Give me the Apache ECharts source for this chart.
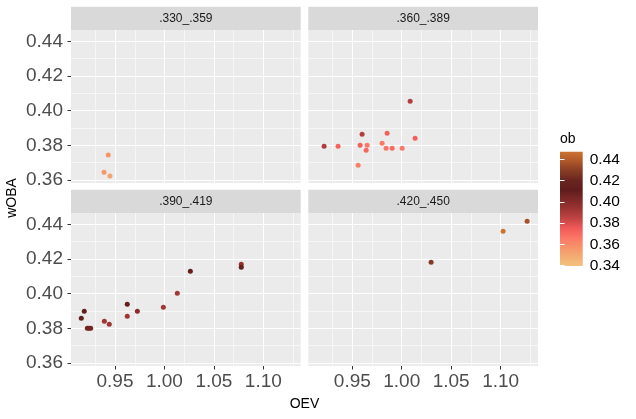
<!DOCTYPE html>
<html><head><meta charset="utf-8">
<script src="https://cdn.jsdelivr.net/npm/echarts@6/dist/echarts.min.js"></script>
<style>html,body{margin:0;padding:0;background:#fff}#c{width:636px;height:419px}</style>
</head><body><div id="c"></div>
<script>
// ---- data ----
const facetLabels = ['.330_.359', '.360_.389', '.390_.419', '.420_.450'];

const oev330  = [0.9432, 0.9389, 0.9449];
const woba330 = [0.3744, 0.3644, 0.3623];
const ob330   = [0.357, 0.356, 0.352];

const oev360  = [0.9215, 0.9356, 0.9599, 0.9852, 1.0085, 1.0135, 0.9579, 0.9650, 0.9640, 0.9801, 0.9842, 0.9903, 1.0004, 0.9559];
const woba360 = [0.3794, 0.3794, 0.3864, 0.3869, 0.4054, 0.3841, 0.3800, 0.3800, 0.3771, 0.3812, 0.3783, 0.3783, 0.3783, 0.3685];
const ob360   = [0.389, 0.372, 0.388, 0.373, 0.388, 0.373, 0.373, 0.366, 0.371, 0.366, 0.367, 0.370, 0.366, 0.364];

const oev390  = [0.9159, 0.9189, 0.9220, 0.9237, 0.9254, 0.9392, 0.9442, 0.9624, 0.9624, 0.9726, 0.9989, 1.0130, 1.0262, 1.0777, 1.0777];
const woba390 = [0.3858, 0.3898, 0.3800, 0.3800, 0.3800, 0.3841, 0.3823, 0.3939, 0.3869, 0.3898, 0.3921, 0.4002, 0.4129, 0.4169, 0.4152];
const ob390   = [0.413, 0.413, 0.405, 0.405, 0.405, 0.393, 0.393, 0.410, 0.393, 0.399, 0.393, 0.392, 0.410, 0.395, 0.410];

const oev420  = [1.0297, 1.1025, 1.1268];
const woba420 = [0.4181, 0.4360, 0.4417];
const ob420   = [0.428, 0.447, 0.436];

const xBreaks = [0.95, 1.00, 1.05, 1.10];
const xMinor  = [0.925, 0.975, 1.025, 1.075, 1.125];
const yBreaks = [0.36, 0.38, 0.40, 0.42, 0.44];
const yMinor  = [0.37, 0.39, 0.41, 0.43];
const xRange  = [0.9055, 1.1378];
const yRange  = [0.35827, 0.44652];

const obBreaks = [0.34, 0.36, 0.38, 0.40, 0.42, 0.44];
const obRange  = [0.3397, 0.4471];
const obColors = ['#F3C27C', '#F4AC72', '#F7926A', '#FB7666', '#F05858', '#C04444', '#9E3434',
                  '#7E2828', '#5F1C1C', '#692620', '#883C24', '#AE582A', '#CC7330'];

// ---- build ----
const FONT = '"Liberation Sans", Arial, sans-serif';
const panelX = [oev330, oev360, oev390, oev420];
const panelY = [woba330, woba360, woba390, woba420];
const panelOb = [ob330, ob360, ob390, ob420];

const W = 229.7, H = 153, STRIP = 23.3;
const layout = [
  {left: 71, top: 30}, {left: 308.3, top: 30},
  {left: 71, top: 213}, {left: 308.3, top: 213}
];

const grids = layout.map(p => ({left: p.left, top: p.top, width: W, height: H,
  show: true, backgroundColor: '#EBEBEB', borderWidth: 0, containLabel: false, outerBoundsMode: 'none'}));
grids.push({left: 560, top: 151.7, width: 22.7, height: 114.3, show: true, borderWidth: 0,
  containLabel: false, outerBoundsMode: 'none',
  backgroundColor: {type: 'linear', x: 0, y: 0, x2: 0, y2: 1,
    colorStops: obColors.slice().reverse().map((c, i, a) => ({offset: i / (a.length - 1), color: c}))}});

const xAxes = [], yAxes = [], series = [];
for (let i = 0; i < 4; i++) {
  const bottom = i >= 2, left = i % 2 === 0;
  xAxes.push({gridIndex: i, type: 'value', min: xRange[0], max: xRange[1],
    axisLine: {show: false}, splitLine: {show: false},
    axisTick: {show: bottom, customValues: xBreaks, length: 3.5, lineStyle: {color: '#333333', width: 1}},
    axisLabel: {show: bottom, customValues: xBreaks, formatter: v => v.toFixed(2),
      color: '#4D4D4D', fontSize: 19, fontFamily: FONT, margin: 6}});
  yAxes.push({gridIndex: i, type: 'value', min: yRange[0], max: yRange[1],
    axisLine: {show: false}, splitLine: {show: false},
    axisTick: {show: left, customValues: yBreaks, length: 3.5, lineStyle: {color: '#333333', width: 1}},
    axisLabel: {show: left, customValues: yBreaks, formatter: v => v.toFixed(2),
      color: '#4D4D4D', fontSize: 19, fontFamily: FONT, margin: 8}});
  const lines = [];
  xBreaks.forEach(v => lines.push({xAxis: v, lineStyle: {width: 1.1}}));
  xMinor.forEach(v => lines.push({xAxis: v, lineStyle: {width: 0.55}}));
  yBreaks.forEach(v => lines.push({yAxis: v, lineStyle: {width: 1.1}}));
  yMinor.forEach(v => lines.push({yAxis: v, lineStyle: {width: 0.55}}));
  series.push({type: 'scatter', xAxisIndex: i, yAxisIndex: i, z: 3, symbolSize: 5,
    data: panelX[i].map((x, k) => [x, panelY[i][k], panelOb[i][k]]),
    itemStyle: {opacity: 1}, emphasis: {disabled: true}});
  series.push({type: 'line', xAxisIndex: i, yAxisIndex: i, z: 1, data: [],
    markLine: {silent: true, symbol: ['none', 'none'], label: {show: false}, animation: false, z: 1,
      lineStyle: {color: '#FFFFFF', type: 'solid'}, emphasis: {disabled: true}, data: lines}});
}
// colorbar axes
xAxes.push({gridIndex: 4, type: 'value', min: 0, max: 1, show: false});
yAxes.push({gridIndex: 4, type: 'value', position: 'right', min: obRange[0], max: obRange[1],
  axisLine: {show: false}, splitLine: {show: false},
  axisTick: {customValues: obBreaks, inside: true, length: 4.5, lineStyle: {color: '#FFFFFF', width: 1}},
  axisLabel: {customValues: obBreaks, formatter: v => v.toFixed(2), color: '#000000',
    fontSize: 15.5, fontFamily: FONT, margin: 7}});
yAxes.push({gridIndex: 4, type: 'value', position: 'left', min: obRange[0], max: obRange[1],
  axisLine: {show: false}, splitLine: {show: false}, axisLabel: {show: false},
  axisTick: {customValues: obBreaks, inside: true, length: 4.5, lineStyle: {color: '#FFFFFF', width: 1}}});

const graphics = [];
layout.forEach((p, i) => {
  graphics.push({type: 'rect', shape: {x: p.left, y: p.top - STRIP, width: W, height: STRIP},
    style: {fill: '#D9D9D9'}, silent: true});
  graphics.push({type: 'text', x: p.left + W / 2, y: p.top - STRIP / 2,
    style: {text: facetLabels[i], fill: '#1A1A1A', fontSize: 12, fontFamily: FONT,
      align: 'center', verticalAlign: 'middle'}, silent: true});
});
graphics.push({type: 'text', x: 304.5, y: 404, style: {text: 'OEV', fill: '#000', fontSize: 14,
  fontFamily: FONT, align: 'center', verticalAlign: 'middle'}});
graphics.push({type: 'text', x: 12, y: 198, rotation: Math.PI / 2, style: {text: 'wOBA', fill: '#000',
  fontSize: 14, fontFamily: FONT, align: 'center', verticalAlign: 'middle'}});
graphics.push({type: 'text', x: 560, y: 139, style: {text: 'ob', fill: '#000', fontSize: 14,
  fontFamily: FONT, align: 'left', verticalAlign: 'middle'}});

const chart = echarts.init(document.getElementById('c'), null, {renderer: 'canvas'});
chart.setOption({
  animation: false,
  backgroundColor: '#FFFFFF',
  grid: grids, xAxis: xAxes, yAxis: yAxes, series: series,
  visualMap: {type: 'continuous', show: false, min: obRange[0], max: obRange[1], dimension: 2,
    seriesIndex: [0, 2, 4, 6], inRange: {color: obColors}},
  graphic: graphics
});
</script></body></html>
